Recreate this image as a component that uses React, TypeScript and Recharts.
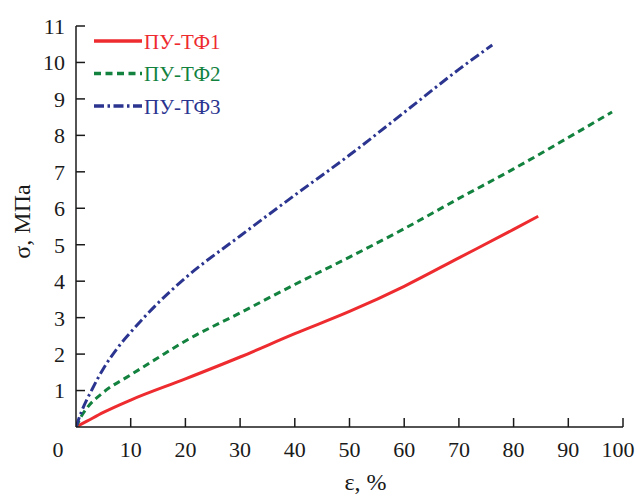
import { LineChart, Line, XAxis, YAxis, Legend, Label } from "recharts";

// strain, % / stress, MPa for each film
const strainTF1 = [0, 2, 5, 10, 20, 30, 40, 50, 60, 70, 80, 84.5];
const stressTF1 = [0, 0.16, 0.4, 0.74, 1.32, 1.92, 2.56, 3.17, 3.86, 4.64, 5.42, 5.78];

const strainTF2 = [0, 1, 2, 5, 10, 15, 20, 30, 40, 50, 60, 70, 80, 90, 98];
const stressTF2 = [0, 0.3, 0.52, 0.95, 1.43, 1.9, 2.36, 3.13, 3.91, 4.66, 5.44, 6.27, 7.08, 7.94, 8.64];

const strainTF3 = [0, 1, 3, 5, 7.5, 10, 15, 20, 30, 40, 50, 60, 70, 76.1];
const stressTF3 = [0, 0.42, 1.05, 1.6, 2.15, 2.6, 3.4, 4.09, 5.24, 6.36, 7.46, 8.63, 9.81, 10.48];

const xTicks = [0, 10, 20, 30, 40, 50, 60, 70, 80, 90, 100];
const yTicks = [1, 2, 3, 4, 5, 6, 7, 8, 9, 10, 11];

const FONT = "'Liberation Serif', 'Times New Roman', serif";
const INK = "#1a1a1a";

const toPoints = (xs: number[], ys: number[]) => xs.map((x, i) => ({ x, y: ys[i] }));

const series = [
  { name: "ПУ-ТФ1", data: toPoints(strainTF1, stressTF1), color: "#ee2b2f", dash: undefined as string | undefined },
  { name: "ПУ-ТФ2", data: toPoints(strainTF2, stressTF2), color: "#13823f", dash: "7 4.5" },
  { name: "ПУ-ТФ3", data: toPoints(strainTF3, stressTF3), color: "#2b3590", dash: "10 3.5 2.5 3.5" },
];

function XTick({ x, y, payload }: any) {
  const v = payload.value;
  const dx = v === 0 ? -18 : v === 100 ? -5 : 0;
  return (
    <g>
      {v !== 0 && <line x1={x} y1={y} x2={x} y2={y - 9} stroke={INK} strokeWidth={1.5} />}
      <text x={x + dx} y={y + 30} textAnchor="middle" style={{ fontFamily: FONT }} fontSize={22} fill={INK}>
        {v}
      </text>
    </g>
  );
}

function YTick({ x, y, payload }: any) {
  return (
    <g>
      <line x1={x} y1={y} x2={x + 9} y2={y} stroke={INK} strokeWidth={1.5} />
      <text x={x - 11} y={y} dy="0.36em" textAnchor="end" style={{ fontFamily: FONT }} fontSize={22} fill={INK}>
        {payload.value}
      </text>
    </g>
  );
}

function LegendBox({ payload }: any) {
  return (
    <svg width={160} height={100}>
      {(payload || []).map((entry: any, i: number) => {
        const s = series.find((d) => d.name === entry.value);
        const cy = 13 + i * 32.5;
        return (
          <g key={entry.value}>
            <line
              x1={4}
              x2={52}
              y1={cy}
              y2={cy}
              stroke={s?.color}
              strokeWidth={3.5}
              strokeDasharray={s?.dash}
            />
            <text x={54} y={cy} dy="0.36em" style={{ fontFamily: FONT }} fontSize={21} fill={s?.color}>
              {entry.value}
            </text>
          </g>
        );
      })}
    </svg>
  );
}

export default function App() {
  return (
    <div style={{ position: "absolute", left: 0, top: 0, background: "#fff" }}>
      <LineChart width={638} height={501} margin={{ top: 26, right: 15, bottom: 14, left: 16 }}>
        <XAxis
          type="number"
          dataKey="x"
          domain={[0, 100]}
          ticks={xTicks}
          interval={0}
          height={60}
          tickSize={0}
          tickMargin={0}
          tick={<XTick />}
          stroke={INK}
          strokeWidth={1.5}
          allowDataOverflow
        >
          <Label
            content={({ viewBox }: any) => (
              <text
                x={viewBox.x + viewBox.width / 2 + 16}
                y={viewBox.y + 63}
                textAnchor="middle"
                style={{ fontFamily: FONT }}
                fontSize={24}
                fill={INK}
              >
                ε, %
              </text>
            )}
          />
        </XAxis>
        <YAxis
          type="number"
          dataKey="y"
          domain={[0, 11]}
          ticks={yTicks}
          interval={0}
          width={60}
          tickSize={0}
          tickMargin={0}
          tick={<YTick />}
          stroke={INK}
          strokeWidth={1.5}
          allowDataOverflow
        >
          <Label
            content={({ viewBox }: any) => {
              const cx = 30;
              const cy = viewBox.y + viewBox.height / 2 - 5;
              return (
                <text
                  x={cx}
                  y={cy}
                  transform={`rotate(-90 ${cx} ${cy})`}
                  textAnchor="middle"
                  style={{ fontFamily: FONT }}
                  fontSize={24}
                  fill={INK}
                >
                  σ, МПа
                </text>
              );
            }}
          />
        </YAxis>
        <Legend
          layout="vertical"
          align="center"
          verticalAlign="middle"
          content={<LegendBox />}
          wrapperStyle={{ position: "absolute", left: 90, top: 28, width: 160, height: 100 }}
        />
        {series.map((s) => (
          <Line
            key={s.name}
            name={s.name}
            data={s.data}
            dataKey="y"
            type="monotone"
            stroke={s.color}
            strokeWidth={3}
            strokeDasharray={s.dash}
            dot={false}
            activeDot={false}
            isAnimationActive={false}
          />
        ))}
      </LineChart>
    </div>
  );
}
